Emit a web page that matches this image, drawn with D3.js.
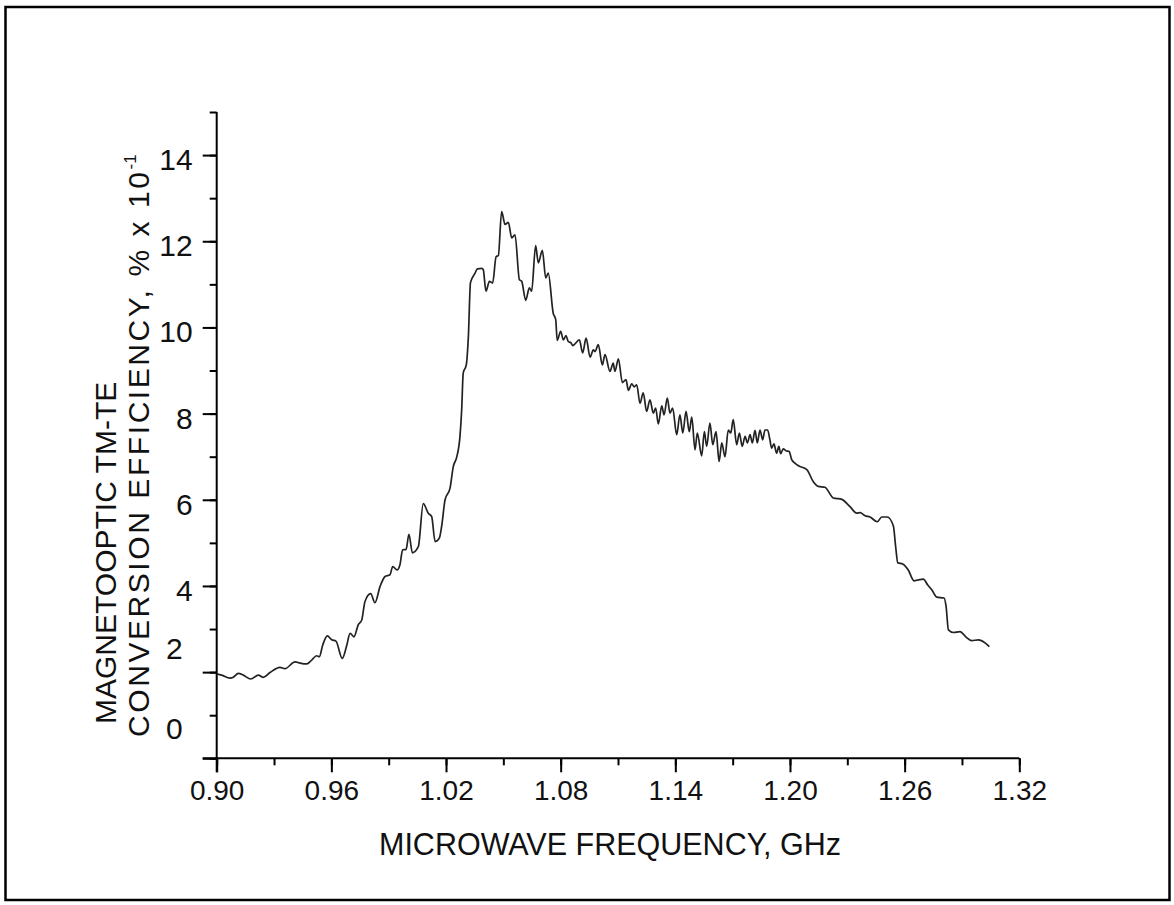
<!DOCTYPE html>
<html>
<head>
<meta charset="utf-8">
<script src="https://cdn.jsdelivr.net/npm/d3@7"></script>
<style>
  body { margin: 0; background: #fff; }
  svg { display: block; font-family: "Liberation Sans", Arial, sans-serif; }
</style>
</head>
<body>
<svg id="chart" width="1174" height="905"></svg>
<script>
// Data
let freq = [
  0.9000, 0.9026, 0.9070, 0.9087, 0.9113, 0.9139, 0.9178, 0.9218, 0.9244, 0.9279,
  0.9331, 0.9357, 0.9410, 0.9436, 0.9471, 0.9497, 0.9523, 0.9537, 0.9555, 0.9579,
  0.9602, 0.9624, 0.9657, 0.9680, 0.9698, 0.9718, 0.9741, 0.9759, 0.9776, 0.9806,
  0.9828, 0.9855, 0.9881, 0.9907, 0.9921, 0.9944, 0.9959, 0.9973, 0.9991, 1.0006,
  1.0024, 1.0055, 1.0081, 1.0107, 1.0125, 1.0143, 1.0165, 1.0177, 1.0195, 1.0221,
  1.0238, 1.0256, 1.0273, 1.0282, 1.0290, 1.0306, 1.0317, 1.0328, 1.0352, 1.0364,
  1.0387, 1.0395, 1.0409, 1.0427, 1.0444, 1.0462, 1.0474, 1.0491, 1.0509, 1.0526,
  1.0544, 1.0561, 1.0584, 1.0596, 1.0617, 1.0636, 1.0648, 1.0669, 1.0683, 1.0704,
  1.0722, 1.0735, 1.0761, 1.0774, 1.0782, 1.0800, 1.0814, 1.0828, 1.0840, 1.0852,
  1.0863, 1.0898, 1.0915, 1.0933, 1.0954, 1.0971, 1.0980, 1.0997, 1.1018, 1.1032,
  1.1058, 1.1075, 1.1084, 1.1102, 1.1123, 1.1142, 1.1154, 1.1172, 1.1185, 1.1198,
  1.1215, 1.1232, 1.1250, 1.1267, 1.1285, 1.1297, 1.1311, 1.1329, 1.1341, 1.1358,
  1.1372, 1.1386, 1.1407, 1.1424, 1.1439, 1.1456, 1.1473, 1.1486, 1.1503, 1.1515,
  1.1538, 1.1552, 1.1564, 1.1581, 1.1596, 1.1613, 1.1629, 1.1643, 1.1660, 1.1677,
  1.1690, 1.1703, 1.1721, 1.1735, 1.1750, 1.1765, 1.1777, 1.1791, 1.1803, 1.1817,
  1.1829, 1.1843, 1.1857, 1.1869, 1.1883, 1.1895, 1.1904, 1.1916, 1.1930, 1.1942,
  1.1951, 1.1965, 1.1979, 1.1996, 1.2009, 1.2026, 1.2044, 1.2088, 1.2122, 1.2148,
  1.2183, 1.2227, 1.2271, 1.2314, 1.2349, 1.2367, 1.2393, 1.2419, 1.2457, 1.2480,
  1.2509, 1.2541, 1.2553, 1.2564, 1.2590, 1.2619, 1.2649, 1.2671, 1.2698, 1.2721,
  1.2742, 1.2768, 1.2806, 1.2817, 1.2829, 1.2855, 1.2890, 1.2920, 1.2951, 1.2986,
  1.3021, 1.3043
];

let efficiency = [
  1.96, 1.93, 1.86, 1.88, 1.97, 1.93, 1.84, 1.93, 1.88, 1.99,
  2.11, 2.08, 2.24, 2.21, 2.19, 2.28, 2.38, 2.36, 2.63, 2.84,
  2.75, 2.72, 2.32, 2.61, 2.90, 2.82, 3.10, 3.21, 3.64, 3.82,
  3.61, 3.99, 4.22, 4.26, 4.45, 4.37, 4.49, 4.84, 4.85, 5.20,
  4.77, 4.91, 5.91, 5.69, 5.61, 5.03, 5.11, 5.38, 6.00, 6.27,
  6.77, 6.99, 7.47, 8.09, 8.94, 9.13, 9.79, 11.04, 11.26, 11.36,
  11.37, 11.34, 10.84, 11.07, 11.03, 11.64, 11.67, 12.69, 12.39, 12.44,
  12.08, 12.15, 11.11, 11.07, 10.63, 10.92, 10.84, 11.90, 11.50, 11.79,
  11.15, 11.26, 10.33, 10.18, 9.70, 9.91, 9.71, 9.81, 9.67, 9.65,
  9.58, 9.71, 9.41, 9.75, 9.31, 9.48, 9.44, 9.60, 9.13, 9.37,
  8.98, 9.17, 8.98, 9.27, 8.72, 8.79, 8.54, 8.69, 8.62, 8.67,
  8.24, 8.48, 8.05, 8.32, 8.01, 8.13, 7.76, 8.18, 7.97, 8.36,
  8.01, 8.13, 7.51, 7.97, 7.55, 8.05, 7.58, 7.92, 7.16, 7.55,
  7.02, 7.58, 7.24, 7.78, 7.28, 7.58, 6.89, 7.32, 7.00, 7.62,
  7.55, 7.86, 7.28, 7.55, 7.24, 7.47, 7.32, 7.51, 7.32, 7.61,
  7.32, 7.62, 7.39, 7.62, 7.62, 7.39, 7.20, 7.30, 7.08, 7.24,
  7.07, 7.18, 7.14, 7.12, 6.93, 6.85, 6.79, 6.70, 6.42, 6.31,
  6.29, 6.04, 6.01, 5.84, 5.69, 5.70, 5.63, 5.60, 5.49, 5.60,
  5.60, 5.39, 4.91, 4.54, 4.51, 4.37, 4.12, 4.14, 4.16, 4.02,
  3.91, 3.74, 3.72, 3.52, 2.98, 2.92, 2.94, 2.82, 2.73, 2.75,
  2.68, 2.59
];

let xMajorTicks = [0.90, 0.96, 1.02, 1.08, 1.14, 1.20, 1.26, 1.32];
let yMajorTicks = [0, 2, 4, 6, 8, 10, 12, 14];

let xTitle = 'MICROWAVE FREQUENCY, GHz';
let yTitle1 = 'MAGNETOOPTIC TM-TE';
let yTitle2 = 'CONVERSION  EFFICIENCY, % x 10';

let svg = d3.select('#chart');

// outer frame of the figure
svg.append('rect')
  .attr('x', 5.5)
  .attr('y', 7)
  .attr('width', 1164)
  .attr('height', 893)
  .attr('fill', 'none')
  .attr('stroke', '#000')
  .attr('stroke-width', 2.5);

let x = d3.scaleLinear().domain([0.90, 1.32]).range([216.7, 1019.3]);
let y = d3.scaleLinear().domain([0, 15]).range([758.3, 112]);

// minor ticks first, then majors with labels
let xMinor = d3.range(0, 15).map(i => 0.90 + i * 0.03);
let yMinor = d3.range(0, 16);

let gx = svg.append('g').attr('transform', 'translate(0,' + y(0) + ')');
gx.call(d3.axisBottom(x).tickValues(xMinor).tickSize(7).tickFormat(''))
  .call(g => g.select('.domain').remove());
gx.append('g')
  .call(d3.axisBottom(x).tickValues(xMajorTicks).tickSize(14).tickSizeOuter(0).tickPadding(8)
    .tickFormat(d3.format('.2f')))
  .call(g => g.select('.domain').attr('d', 'M' + (x(0.90) - 14) + ',0H' + x(1.32)));

let gy = svg.append('g').attr('transform', 'translate(' + x(0.90) + ',0)');
gy.call(d3.axisLeft(y).tickValues(yMinor).tickSize(7).tickFormat(''))
  .call(g => g.select('.domain').remove());
gy.append('g')
  .call(d3.axisLeft(y).tickValues(yMajorTicks).tickSize(14).tickSizeOuter(0).tickPadding(10))
  .call(g => g.select('.domain').attr('d', 'M0,' + y(15) + 'V' + (y(0) + 14)));

svg.selectAll('.tick line, .domain')
  .attr('stroke', '#000')
  .attr('stroke-width', 2);

gx.selectAll('text')
  .attr('font-size', 28)
  .attr('font-family', '"Liberation Sans", Arial, sans-serif')
  .attr('fill', '#111');

// the scan has the low y labels sitting above and left of their ticks
let yLabelShift = { 0: [-10, -30], 2: [-10, -24] };
gy.selectAll('text')
  .attr('font-size', 30)
  .attr('font-family', '"Liberation Sans", Arial, sans-serif')
  .attr('fill', '#111')
  .attr('dx', d => (yLabelShift[d] ? yLabelShift[d][0] : 0) + 'px')
  .attr('dy', d => (0.35 * 30 + (yLabelShift[d] ? yLabelShift[d][1] : 4)) + 'px');

// the curve
let points = freq.map((f, i) => [f, efficiency[i]]);
let line = d3.line()
  .x(d => x(d[0]))
  .y(d => y(d[1]))
  .curve(d3.curveMonotoneX);

svg.append('path')
  .datum(points)
  .attr('d', line)
  .attr('fill', 'none')
  .attr('stroke', '#222')
  .attr('stroke-width', 1.7)
  .attr('stroke-linejoin', 'round');

// titles
svg.append('text')
  .attr('x', 610)
  .attr('y', 855)
  .attr('text-anchor', 'middle')
  .attr('font-size', 30.5)
  .attr('fill', '#111')
  .text(xTitle);

svg.append('text')
  .attr('transform', 'translate(116,724) rotate(-90)')
  .attr('font-size', 30)
  .attr('fill', '#111')
  .text(yTitle1);

let t2 = svg.append('text')
  .attr('transform', 'translate(149,737) rotate(-90)')
  .attr('font-size', 30)
  .attr('fill', '#111');
t2.append('tspan')
  .attr('textLength', 565)
  .attr('lengthAdjust', 'spacing')
  .text(yTitle2);
t2.append('tspan')
  .attr('font-size', 17)
  .attr('dy', -13)
  .text('-1');
</script>
</body>
</html>
